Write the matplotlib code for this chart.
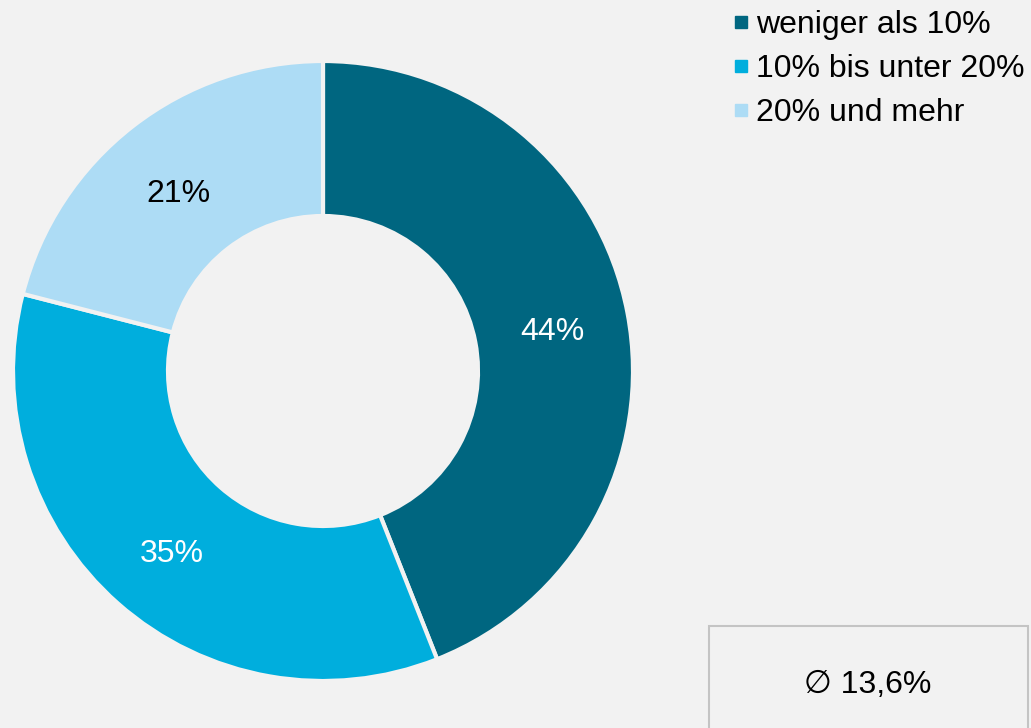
import matplotlib.pyplot as plt
from matplotlib.lines import Line2D
from matplotlib.patches import Rectangle

# anteile der gruppen
kategorien = ['weniger als 10%', '10% bis unter 20%', '20% und mehr']
anteile = [44, 35, 21]
farben = ['#006680', '#00aedd', '#addcf5']
textfarben = ['white', 'white', 'black']
durchschnitt = '13,6%'

bg = '#f2f2f2'
plt.rcParams['font.family'] = ['Liberation Sans', 'DejaVu Sans']

fig = plt.figure(figsize=(10.31, 7.28), dpi=100, facecolor=bg)
ax = fig.add_axes([0, 0, 1, 1])
ax.set_facecolor(bg)

wedges, texts = ax.pie(anteile, colors=farben, startangle=90, counterclock=False,
                       center=(323, 357), radius=310, frame=True,
                       wedgeprops=dict(width=155, edgecolor=bg, linewidth=3))
ax.set_xlim(0, 1031)
ax.set_ylim(0, 728)
ax.set_aspect('equal')
ax.axis('off')

# prozentwerte im ring
label_pos = [(552, 396), (172, 174), (178, 534)]
for (x, y), wert, tc in zip(label_pos, anteile, textfarben):
    ax.text(x, y, f'{wert}%', color=tc, fontsize=23, ha='center', va='center')

handles = [Line2D([], [], marker='s', linestyle='none', markersize=9,
                  markerfacecolor=c, markeredgecolor=c) for c in farben]
leg = ax.legend(handles, kategorien, loc='upper left', bbox_to_anchor=(0.697, 1.004),
                frameon=False, fontsize=23, handlelength=0.6, handletextpad=0.18,
                labelspacing=0.44, borderaxespad=0)

# kasten mit durchschnitt
ax.add_patch(Rectangle((709, -20), 319, 122, facecolor=bg, edgecolor='#c4c4c4', lw=1.5))
ax.text(868, 43, '\u2205 ' + durchschnitt, fontsize=23, ha='center', va='center')

fig.savefig('out.png', dpi=100, facecolor=bg)
